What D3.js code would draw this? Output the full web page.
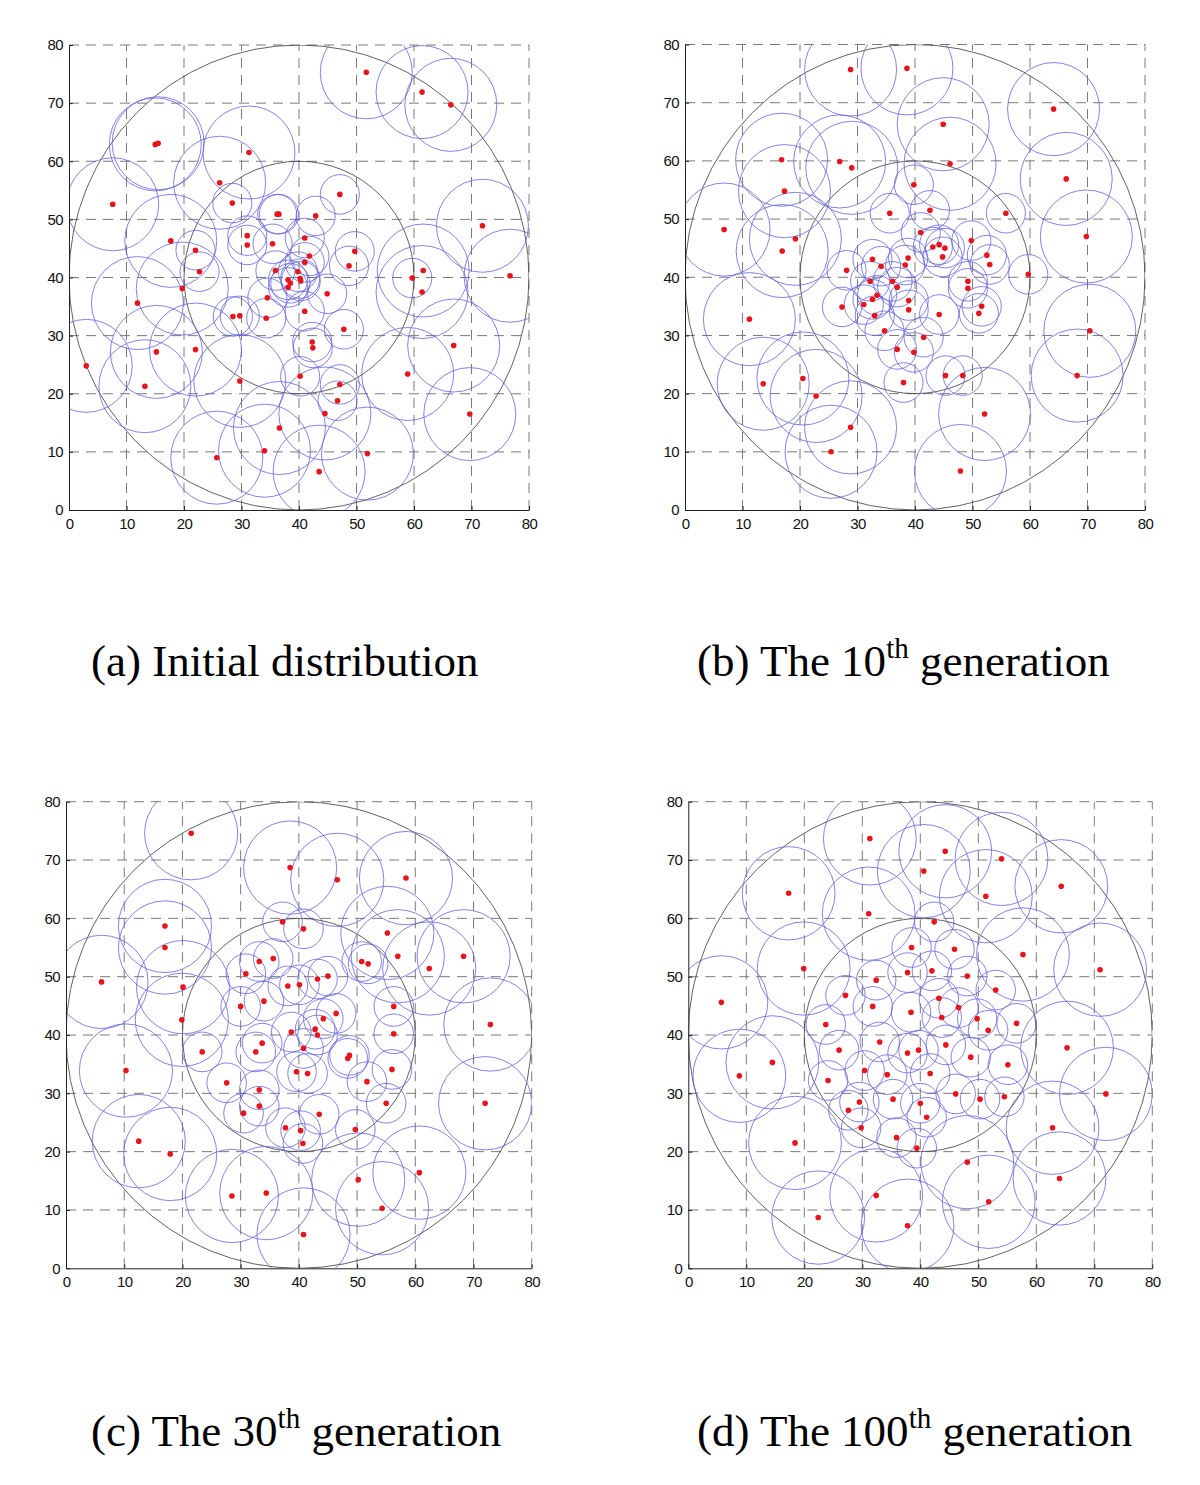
<!DOCTYPE html>
<html>
<head>
<meta charset="utf-8">
<script src="https://cdn.jsdelivr.net/npm/d3@7"></script>
<style>
  body { margin: 0; background: #fff; }
  svg { display: block; }
</style>
</head>
<body>
<svg id="fig" width="1200" height="1485"></svg>
<script>
// axis ticks (same for x and y, all panels)
var ticks = [0, 10, 20, 30, 40, 50, 60, 70, 80];
// the two sensing radii: large-range nodes and small-range nodes
var sensorRange = [8, 3.4];
// region boundary circles [cx, cy, r]
var regionCircles = [[40, 40, 40], [40, 40, 20]];

// (a) initial distribution
var bigA = [[15.0,62.9],[15.5,63.1],[7.6,52.6],[31.3,61.5],[26.2,56.3],[17.7,46.3],[51.7,75.3],[61.4,71.9],
  [66.4,69.7],[71.9,48.9],[76.7,40.3],[61.4,37.5],[61.6,41.2],[19.7,38.1],[11.9,35.6],[3.0,24.8],[13.2,21.3],
  [15.2,27.2],[22.0,27.6],[29.7,22.2],[25.7,9.0],[34.0,10.2],[36.6,14.1],[44.5,16.6],[43.5,6.6],[51.9,9.7],
  [58.9,23.4],[66.9,28.3],[69.7,16.5]];
var smallA = [[28.4,52.8],[36.2,50.9],[36.5,50.9],[42.9,50.6],[47.1,54.3],[31.0,47.2],[31.0,45.6],[35.4,45.8],
  [41.0,46.8],[22.0,44.7],[22.7,41.0],[41.8,43.7],[41.0,42.6],[49.7,44.5],[48.7,42.0],[35.9,41.2],[39.8,41.0],
  [38.1,39.6],[40.2,39.8],[40.3,39.4],[38.5,39.0],[38.1,38.3],[44.9,37.2],[34.5,36.5],[41.0,34.2],[34.3,33.0],
  [28.5,33.3],[29.7,33.4],[47.8,31.1],[42.3,28.9],[42.4,27.9],[40.2,23.0],[47.1,21.6],[46.7,18.8],[59.7,39.9]];

// (b) 10th generation
var bigB = [[28.8,75.7],[38.6,75.9],[64.1,68.9],[44.9,66.3],[16.8,60.2],[26.9,59.9],[29.0,58.8],[46.1,59.5],
  [66.3,56.9],[17.3,54.8],[6.8,48.2],[19.2,46.6],[16.9,44.5],[69.8,47.0],[11.2,32.8],[13.6,21.7],[20.5,22.6],
  [22.8,19.6],[28.8,14.2],[25.4,10.0],[52.1,16.5],[47.9,6.7],[70.4,30.8],[68.2,23.1]];
var smallB = [[39.8,55.9],[35.6,51.0],[42.6,51.5],[55.8,51.0],[41.0,47.7],[43.1,45.2],[44.2,45.6],[45.2,45.0],
  [44.8,43.5],[49.8,46.3],[52.5,43.8],[53.0,42.2],[32.6,43.1],[34.1,41.9],[38.8,43.3],[38.3,42.1],[28.1,41.2],
  [59.7,40.5],[32.2,39.3],[36.1,39.3],[36.9,38.3],[33.4,36.9],[32.6,36.2],[31.1,35.3],[38.9,36.0],[38.9,34.4],
  [27.3,34.9],[33.0,33.4],[44.2,33.6],[49.2,39.3],[49.2,38.1],[51.6,35.0],[51.1,33.8],[34.7,30.8],[41.5,29.7],
  [36.9,27.6],[39.8,27.1],[45.3,23.1],[48.3,23.1],[38.0,21.9]];

// (c) 30th generation
var bigC = [[21.5,74.6],[38.5,68.7],[46.6,66.6],[58.4,66.9],[17.0,58.7],[17.0,55.0],[55.2,57.5],[6.1,49.1],
  [20.1,48.2],[19.9,42.6],[57.0,53.5],[62.4,51.4],[68.3,53.5],[72.9,41.8],[10.3,33.9],[72.0,28.3],[12.5,21.8],
  [17.9,19.6],[28.5,12.4],[34.4,12.9],[40.8,5.8],[50.2,15.2],[54.3,10.3],[60.7,16.4]];
var smallC = [[37.2,59.4],[40.8,58.2],[33.2,52.6],[35.6,53.1],[30.9,50.5],[30.0,44.9],[34.0,45.8],[38.1,48.4],
  [40.1,48.6],[43.2,49.6],[45.0,50.1],[50.8,52.6],[51.9,52.2],[56.3,44.9],[46.4,43.7],[44.2,42.8],[42.8,41.0],
  [43.2,40.0],[38.7,40.5],[56.3,40.2],[23.4,37.1],[32.6,37.1],[33.7,38.6],[40.8,37.7],[48.4,36.0],[48.7,36.5],
  [27.6,31.8],[39.6,33.7],[41.5,33.4],[51.7,32.0],[56.0,34.1],[33.2,30.6],[33.2,27.8],[30.5,26.6],[55.0,28.3],
  [43.5,26.4],[37.7,24.1],[40.3,23.6],[40.7,21.4],[49.7,23.8]];

// (d) 100th generation
var bigD = [[31.3,73.7],[44.3,71.5],[40.6,68.1],[54.0,70.2],[51.3,63.8],[64.3,65.5],[17.3,64.3],[31.1,60.8],
  [57.7,53.8],[71.0,51.2],[19.9,51.4],[5.7,45.6],[14.5,35.3],[8.8,33.0],[65.3,37.8],[72.0,29.9],[62.8,24.1],
  [18.4,21.5],[48.1,18.2],[64.0,15.4],[51.8,11.4],[32.4,12.5],[22.4,8.7],[37.8,7.3]];
var smallD = [[42.4,59.4],[38.5,55.0],[45.9,54.7],[37.8,50.7],[42.0,51.0],[48.1,50.1],[32.4,49.4],[27.1,46.8],
  [31.8,44.9],[38.4,43.9],[53.0,47.7],[43.2,46.3],[46.6,44.7],[43.7,43.0],[49.8,42.8],[56.6,42.0],[23.7,41.8],
  [51.7,40.8],[26.0,37.4],[24.1,32.2],[33.0,38.8],[30.4,33.9],[34.3,33.2],[37.8,36.9],[39.7,37.4],[44.4,38.3],
  [48.7,36.2],[55.1,34.9],[41.7,33.4],[46.1,29.9],[50.3,29.0],[54.5,29.4],[35.3,29.0],[29.5,28.5],[27.6,27.1],
  [40.0,28.3],[41.1,25.9],[29.8,24.1],[35.9,22.4],[39.4,20.6]];

// captions: [before superscript, superscript, after]
var captions = [
  ["(a) Initial distribution", "", ""],
  ["(b) The 10", "th", " generation"],
  ["(c) The 30", "th", " generation"],
  ["(d) The 100", "th", " generation"]
];

var panels = [
  { id: "a", big: bigA, small: smallA, x0: 69, x1: 529, y0: 510, y1: 45, capX: 91, capY: 676 },
  { id: "b", big: bigB, small: smallB, x0: 685, x1: 1145, y0: 510, y1: 44.5, capX: 697, capY: 676 },
  { id: "c", big: bigC, small: smallC, x0: 66, x1: 531.7, y0: 1268.3, y1: 801.7, capX: 91, capY: 1446 },
  { id: "d", big: bigD, small: smallD, x0: 688.3, x1: 1152.3, y0: 1268.3, y1: 801.7, capX: 697, capY: 1446 }
];

var svg = d3.select("#fig");
var defs = svg.append("defs");

panels.forEach(function (p, i) {
  var x = d3.scaleLinear().domain([0, 80]).range([p.x0, p.x1]);
  var y = d3.scaleLinear().domain([0, 80]).range([p.y0, p.y1]);

  defs.append("clipPath").attr("id", "clip-" + p.id)
    .append("rect")
    .attr("x", x(0)).attr("y", y(80))
    .attr("width", x(80) - x(0)).attr("height", y(0) - y(80));

  var g = svg.append("g");

  // dashed grid
  var grid = g.append("g")
    .attr("stroke", "#7a7a7a")
    .attr("stroke-width", 1)
    .attr("stroke-dasharray", "10,7");
  grid.selectAll("line.v").data(ticks.slice(1)).enter().append("line")
    .attr("x1", d => x(d)).attr("x2", d => x(d))
    .attr("y1", y(0)).attr("y2", y(80));
  grid.selectAll("line.h").data(ticks.slice(1)).enter().append("line")
    .attr("y1", d => y(d)).attr("y2", d => y(d))
    .attr("x1", x(0)).attr("x2", x(80));

  var plot = g.append("g").attr("clip-path", "url(#clip-" + p.id + ")");

  // region boundaries
  plot.selectAll("ellipse.region").data(regionCircles).enter().append("ellipse")
    .attr("cx", d => x(d[0])).attr("cy", d => y(d[1]))
    .attr("rx", d => x(d[2]) - x(0)).attr("ry", d => y(0) - y(d[2]))
    .attr("fill", "none").attr("stroke", "#3a3a3a").attr("stroke-width", 0.8);

  // sensing ranges
  var nodes = p.big.map(d => [d[0], d[1], sensorRange[0]])
    .concat(p.small.map(d => [d[0], d[1], sensorRange[1]]));

  plot.selectAll("ellipse.range").data(nodes).enter().append("ellipse")
    .attr("cx", d => x(d[0])).attr("cy", d => y(d[1]))
    .attr("rx", d => x(d[2]) - x(0)).attr("ry", d => y(0) - y(d[2]))
    .attr("fill", "none").attr("stroke", "#6464dc").attr("stroke-width", 0.8);

  plot.selectAll("circle.node").data(nodes).enter().append("circle")
    .attr("cx", d => x(d[0])).attr("cy", d => y(d[1]))
    .attr("r", 2.8)
    .attr("fill", "#e8141c");

  // axes
  var ax = d3.axisBottom(x).tickValues(ticks).tickSizeInner(-4).tickSizeOuter(0).tickPadding(8);
  var ay = d3.axisLeft(y).tickValues(ticks).tickSizeInner(-4).tickSizeOuter(0).tickPadding(6);

  var gx = g.append("g").attr("transform", "translate(0," + y(0) + ")").call(ax);
  var gy = g.append("g").attr("transform", "translate(" + x(0) + ",0)").call(ay);
  [gx, gy].forEach(function (a) {
    a.select(".domain").attr("stroke", "#222");
    a.selectAll(".tick line").attr("stroke", "#222");
    a.selectAll("text")
      .attr("fill", "#111")
      .style("font-family", "'Liberation Sans', Arial, sans-serif")
      .style("font-size", "15px")
      .style("letter-spacing", "-0.6px");
  });

  // caption
  var c = captions[i];
  var t = svg.append("text")
    .attr("x", p.capX).attr("y", p.capY)
    .style("font-family", "'Liberation Serif', 'Times New Roman', serif")
    .style("font-size", "45px")
    .attr("fill", "#000");
  t.append("tspan").text(c[0]);
  if (c[1]) {
    t.append("tspan").attr("dy", -18).style("font-size", "29px").text(c[1]);
    t.append("tspan").attr("dy", 18).text(c[2]);
  }
});
</script>
</body>
</html>
